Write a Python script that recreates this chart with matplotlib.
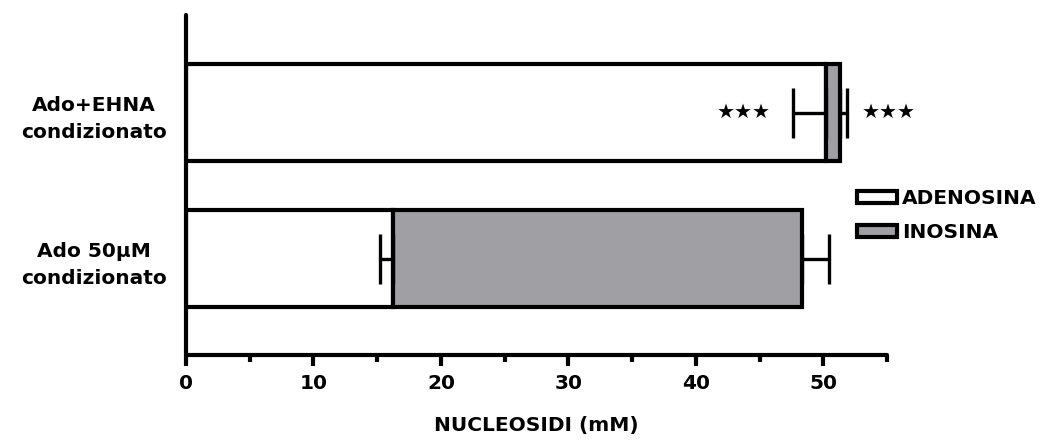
import numpy as np
import matplotlib
matplotlib.use("Agg")
import matplotlib.pyplot as plt
import matplotlib.patches as mpatches
from matplotlib.ticker import MultipleLocator

# dati (mM)
gruppi = ["Ado 50µM\ncondizionato", "Ado+EHNA\ncondizionato"]
adenosina = [16.25, 50.2]
adenosina_err = [1.0, 2.6]
inosina = [32.1, 1.1]
inosina_err = [2.1, 0.6]
significativita = ["", "★★★"]

GRIGIO = "#a09fa4"
LW = 3.0

plt.rcParams["font.family"] = ["DejaVu Sans"]
plt.rcParams["font.weight"] = "bold"
plt.rcParams["axes.labelweight"] = "bold"

fig = plt.figure(figsize=(10.46, 4.41), dpi=100)
ax = fig.add_axes([186 / 1046, 1 - 355 / 441, (887 - 186) / 1046, 340 / 441])

y = np.arange(len(gruppi))
h = 0.665
totale = np.array(adenosina) + np.array(inosina)

ax.barh(y, adenosina, height=h, color="white", edgecolor="black",
        linewidth=LW, zorder=2)
ax.barh(y, inosina, left=adenosina, height=h, color=GRIGIO,
        edgecolor="black", linewidth=LW, zorder=2)

# barre d'errore solo verso l'esterno di ogni segmento
zeros = np.zeros(len(y))
for xc, err in ((adenosina, [adenosina_err, zeros]), (totale, [zeros, inosina_err])):
    eb = ax.errorbar(xc, y, xerr=err, fmt="none", ecolor="black",
                     elinewidth=2.4, capsize=18, capthick=2.4, zorder=3)
    for cap in eb[1]:
        cap.set_solid_capstyle("round")
    for col in eb[2]:
        col.set_capstyle("round")

for i, s in enumerate(significativita):
    if not s:
        continue
    ax.text(adenosina[i] - adenosina_err[i] - 1.7, y[i], s, ha="right",
            va="center", fontsize=14.5, fontweight="normal")
    ax.text(totale[i] + inosina_err[i] + 1.1, y[i], s, ha="left",
            va="center", fontsize=14.5, fontweight="normal")

ax.set_xlim(0, 55)
ax.set_ylim(-0.66, 1.67)
ax.xaxis.set_major_locator(MultipleLocator(10))
ax.xaxis.set_minor_locator(MultipleLocator(5))
ax.tick_params(axis="x", which="major", length=8, width=3, labelsize=14.5, pad=6)
ax.tick_params(axis="x", which="minor", length=5, width=3)
ax.set_yticks(y)
ax.set_yticklabels(gruppi, fontsize=14.5, linespacing=1.55)
for lab in ax.get_yticklabels():
    lab.set_multialignment("center")
ax.tick_params(axis="y", length=0, pad=14)

for side in ("top", "right"):
    ax.spines[side].set_visible(False)
for side in ("left", "bottom"):
    ax.spines[side].set_linewidth(LW)
    ax.spines[side].set_capstyle("round")

ax.set_xlabel("NUCLEOSIDI (mM)", fontsize=14.5, fontweight="bold", labelpad=16)

handles = [
    mpatches.Patch(facecolor="white", edgecolor="black", linewidth=LW, label="ADENOSINA"),
    mpatches.Patch(facecolor=GRIGIO, edgecolor="black", linewidth=LW, label="INOSINA"),
]
fig.legend(handles=handles, loc="upper left", bbox_to_anchor=(857 / 1046, 1 - 189 / 441),
           frameon=False, fontsize=14.5, handlelength=2.0, handleheight=0.6,
           handletextpad=0.25, labelspacing=0.75, borderpad=0, borderaxespad=0)

fig.savefig("out.png", dpi=100, facecolor="white")
